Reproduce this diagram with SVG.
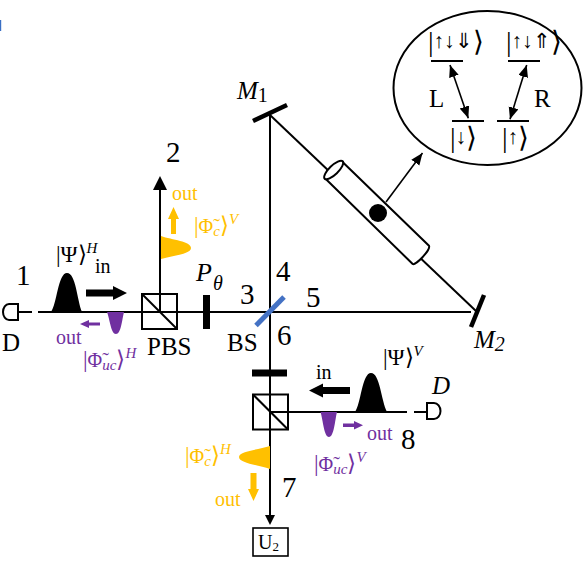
<svg xmlns="http://www.w3.org/2000/svg" width="588" height="565" viewBox="0 0 588 565">
<style>
text{font-family:"Liberation Serif","Times New Roman",serif;fill:#000}
.n{font-size:29px}.l{font-size:25px}.s{font-size:20px}.k{font-size:23px}.q{font-size:28px}
.i{font-style:italic}.u{font-size:15px;font-style:italic}
.f{font-size:20px}
.a{font-size:21px}
.o{fill:#ffc000}.p{fill:#7030a0}
.w{fill:none;stroke:#000;stroke-width:2}
.t{fill:none;stroke:#000;stroke-width:1.6}
</style>
<defs>
<marker id="h" markerUnits="userSpaceOnUse" markerWidth="14" markerHeight="14" refX="12" refY="5" orient="auto-start-reverse"><path d="M0 0L12 5L0 10Z" fill="#000"/></marker>
</defs>
<rect x="0" y="20" width="1.2" height="11" fill="#3a6fc4"/>
<g id="connectors">
<path class="w" d="M38 312H471"/>
<path class="w" d="M18 312H32"/>
<path class="w" d="M160 312V190"/><path d="M160 176L153 190H167Z"/>
<path class="w" d="M270 115V517"/><path d="M270 525L265 515H275Z"/>
<path class="w" d="M270 115L476 311"/>
<path class="w" d="M270 412H407"/>
<path class="w" d="M414 412H427"/>
<path class="t" d="M386 202L422.500 153" marker-end="url(#h)"/>
<path class="t" d="M450 65L468.300 118.300" marker-start="url(#h)" marker-end="url(#h)"/>
<path class="t" d="M526.700 65L510 119.300" marker-start="url(#h)" marker-end="url(#h)"/>
</g>
<g id="detector-1"><path d="M18 304H9A6 8 0 0 0 9 320H18Z" fill="#fff" stroke="#000" stroke-width="2"/><text class="l" x="2" y="351">D</text></g>
<g id="detector-2"><path d="M427 403H434A6.500 8 0 0 1 434 419H427Z" fill="#fff" stroke="#000" stroke-width="2"/><text class="l i" x="432" y="394">D</text></g>
<g id="pulses">
<path d="M51 312C57 304 58 273 67 273C76 273 77 300 82 312Z"/>
<path d="M355 412C361 404 362 373 371 373C380 373 381 400 387 412Z"/>
<path class="p" d="M107 312C110 320 111 334 116 334C121 334 122 320 124 312Z"/>
<path class="p" d="M320.500 412C323 420 324 437 329 437C334 437 335 420 337 412Z"/>
<path class="o" d="M161 236C172 240 191 241 191 248C191 254 172 256 161 259Z"/>
<path class="o" d="M270 446C258 450 239 451 239 457C239 463 258 465 270 469Z"/>
</g>
<g id="flow-arrows">
<path d="M86 289.500H113V286L127 293L113 300V296.500H86Z"/>
<path d="M350 387H323V383.500L309 390.500L323 397.500V394H350Z"/>
<path class="p" d="M100 322.500H89V320L80 324L89 328V325.500H100Z"/>
<path class="p" d="M343 423.500H354V421L363 425.300L354 429.500V427H343Z"/>
<path class="o" d="M171 234V219H168L173.500 207L179 219H176V234Z"/>
<path class="o" d="M250.500 473V489H248L253.500 501L259 489H256.500V473Z"/>
</g>
<g id="pbs-1"><rect class="w" x="142" y="294" width="35" height="35"/><path class="w" d="M142 294L177 329"/><text class="l" x="147" y="355">PBS</text></g>
<g id="pbs-2"><rect class="w" x="253" y="394.500" width="35" height="35"/><path class="w" d="M253 394.500L288 429.500"/></g>
<g id="polarizer-1"><rect x="203" y="295" width="7" height="34"/><text class="i" style="font-size:26px" x="196" y="281">P</text><text class="s i" x="213" y="290">θ</text></g>
<g id="polarizer-2"><rect x="252" y="369.500" width="35" height="7"/></g>
<g id="bs"><path d="M256 325.500L284 297" stroke="#4472c4" stroke-width="5" fill="none"/><text class="l" x="227" y="351">BS</text></g>
<g id="m1"><path d="M253 121L287 105" stroke="#000" stroke-width="4.500" fill="none"/><text class="l i" x="237" y="99">M<tspan class="s" style="font-style:normal" dy="3">1</tspan></text></g>
<g id="m2"><path d="M484 295L471 327" stroke="#000" stroke-width="4.500" fill="none"/><text class="l i" x="474" y="348">M<tspan class="s" dy="3">2</tspan></text></g>
<g id="cavity">
<path d="M325 178.300L342.300 161.700L429 245.700C431 250 415 266 412.700 264Z" fill="#fff" stroke="#000" stroke-width="2" stroke-linejoin="round"/>
<ellipse cx="333.700" cy="170" rx="12.500" ry="4.500" transform="rotate(-44 333.700 170)" fill="#fff" stroke="#000" stroke-width="2"/>
<circle cx="378" cy="213" r="9"/>
</g>
<g id="atom-levels">
<ellipse cx="487.500" cy="88" rx="94" ry="77" class="w"/>
<path class="w" d="M431 61H463M508 61H540M452 121H484M497 121H529"/>
<text class="q" x="428" y="51">|<tspan class="a" dy="-3">↑↓⇓</tspan><tspan dy="3">⟩</tspan></text>
<text class="q" x="506" y="51">|<tspan class="a" dy="-3">↑↓⇑</tspan><tspan dy="3">⟩</tspan></text>
<text class="q" x="450" y="147">|<tspan class="a" dy="-3">↓</tspan><tspan dy="3">⟩</tspan></text>
<text class="q" x="502" y="147">|<tspan class="a" dy="-3">↑</tspan><tspan dy="3">⟩</tspan></text>
<text class="l" x="429" y="107">L</text>
<text class="l" x="534" y="107">R</text>
</g>
<g id="labels">
<text class="n" x="16" y="285">1</text>
<text class="n" x="166" y="162">2</text>
<text class="n" x="240" y="304">3</text>
<text class="n" x="276" y="281">4</text>
<text class="n" x="306" y="307">5</text>
<text class="n" x="277" y="345">6</text>
<text class="n" x="282" y="497">7</text>
<text class="n" x="401" y="449">8</text>
<text class="s" x="95" y="273">in</text>
<text class="s" x="316" y="379">in</text>
<text class="s p" x="56" y="344">out</text>
<text class="s p" x="367" y="440">out</text>
<text class="s o" x="172" y="200">out</text>
<text class="s o" x="215" y="506">out</text>
<text class="k" x="56" y="262">|Ψ⟩<tspan class="u" dy="-9">H</tspan></text>
<text class="k" x="383" y="365">|Ψ⟩<tspan class="u" dy="-9">V</tspan></text>
<text class="k p" x="83" y="367">|<tspan class="f">Φ̃</tspan><tspan class="u" dy="3">uc</tspan><tspan dy="-3">⟩</tspan><tspan class="u" dy="-9">H</tspan></text>
<text class="k p" x="314" y="471">|<tspan class="f">Φ̃</tspan><tspan class="u" dy="3">uc</tspan><tspan dy="-3">⟩</tspan><tspan class="u" dy="-9">V</tspan></text>
<text class="k o" x="194" y="233">|<tspan class="f">Φ̃</tspan><tspan class="u" dy="3">c</tspan><tspan dy="-3">⟩</tspan><tspan class="u" dy="-9">V</tspan></text>
<text class="k o" x="185" y="463">|<tspan class="f">Φ̃</tspan><tspan class="u" dy="3">c</tspan><tspan dy="-3">⟩</tspan><tspan class="u" dy="-9">H</tspan></text>
</g>
<g id="u2"><rect x="253" y="528" width="35" height="28" fill="#fff" stroke="#000" stroke-width="1.600"/><text class="s" x="258" y="549">U<tspan style="font-size:13px" dy="2">2</tspan></text></g>
</svg>
